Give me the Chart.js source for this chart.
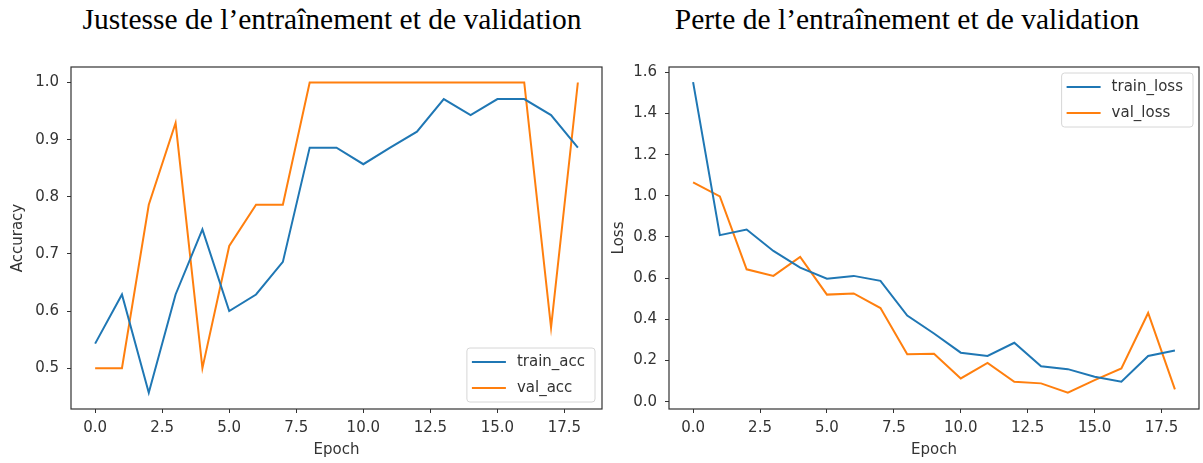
<!DOCTYPE html>
<html>
<head>
<meta charset="utf-8">
<script src="https://cdn.jsdelivr.net/npm/chart.js@4/dist/chart.umd.min.js"></script>
<style>
  body { margin: 0; background: #fff; width: 1203px; height: 463px; position: relative; overflow: hidden; }
  .title { position: absolute; top: 5px; font-family: "Liberation Serif", "Times New Roman", serif; font-size: 29.5px; line-height: 1; color: #000; white-space: nowrap; transform: translateX(-50%); }
  .panel { position: absolute; top: 50px; }
</style>
</head>
<body>
<div class="title" style="left:332px">Justesse de l’entraînement et de validation</div>
<div class="title" style="left:907px">Perte de l’entraînement et de validation</div>
<div class="panel" style="left:0"><canvas id="acc" width="610" height="413"></canvas></div>
<div class="panel" style="left:610px"><canvas id="loss" width="593" height="413"></canvas></div>
<script>
const epochs = [0, 1, 2, 3, 4, 5, 6, 7, 8, 9, 10, 11, 12, 13, 14, 15, 16, 17, 18]
const trainAcc = [0.543, 0.629, 0.457, 0.629, 0.743, 0.600, 0.629, 0.686, 0.886, 0.886, 0.857, 0.886, 0.914, 0.971, 0.943, 0.971, 0.971, 0.943, 0.886]
const valAcc = [0.500, 0.500, 0.786, 0.929, 0.500, 0.714, 0.786, 0.786, 1.0, 1.0, 1.0, 1.0, 1.0, 1.0, 1.0, 1.0, 1.0, 0.571, 1.0]
const trainLoss = [1.552, 0.809, 0.836, 0.732, 0.651, 0.597, 0.611, 0.587, 0.418, 0.331, 0.238, 0.222, 0.286, 0.172, 0.158, 0.121, 0.097, 0.222, 0.249]
const valLoss = [1.065, 0.997, 0.643, 0.611, 0.703, 0.520, 0.526, 0.455, 0.230, 0.233, 0.113, 0.188, 0.097, 0.089, 0.044, 0.105, 0.161, 0.431, 0.060]

const BLUE = '#1f77b4'
const ORANGE = '#ff7f0e'
const INK = '#333'
const tickFont = { family: 'DejaVu Sans', size: 15 }

const points = vals => vals.map((v, i) => ({ x: epochs[i], y: v }))

// box around the plot area, like matplotlib spines
const frame = {
  id: 'frame',
  afterDraw (chart) {
    const { ctx, chartArea: a } = chart
    ctx.save()
    ctx.strokeStyle = INK
    ctx.lineWidth = 1.2
    ctx.strokeRect(a.left, a.top, a.right - a.left, a.bottom - a.top)
    ctx.restore()
  }
}

// legend box drawn inside the plot area
const boxLegend = {
  id: 'boxLegend',
  afterDatasetsDraw (chart, args, opts) {
    const { ctx, chartArea: a } = chart
    const sets = chart.data.datasets
    ctx.save()
    ctx.font = '15px "DejaVu Sans"'
    const textW = Math.max(...sets.map(d => ctx.measureText(d.label).width))
    const w = 50 + textW + 10
    const h = 54
    const x = a.right - w - opts.inset
    const y = opts.corner === 'bottom' ? a.bottom - h - opts.inset : a.top + opts.inset
    ctx.beginPath()
    ctx.roundRect(x, y, w, h, 3)
    ctx.fillStyle = 'rgba(255,255,255,0.85)'
    ctx.fill()
    ctx.strokeStyle = '#d6d6d6'
    ctx.lineWidth = 1
    ctx.stroke()
    sets.forEach((d, i) => {
      const cy = y + 14 + i * 26
      ctx.strokeStyle = d.borderColor
      ctx.lineWidth = 2
      ctx.beginPath()
      ctx.moveTo(x + 5, cy)
      ctx.lineTo(x + 39, cy)
      ctx.stroke()
      ctx.fillStyle = INK
      ctx.textBaseline = 'middle'
      ctx.fillText(d.label, x + 50, cy)
    })
    ctx.restore()
  }
}

function makeChart (id, cfg) {
  return new Chart(document.getElementById(id), {
    type: 'line',
    data: {
      datasets: [
        { label: cfg.names[0], data: points(cfg.series[0]), borderColor: BLUE, backgroundColor: BLUE },
        { label: cfg.names[1], data: points(cfg.series[1]), borderColor: ORANGE, backgroundColor: ORANGE }
      ]
    },
    options: {
      responsive: false,
      animation: false,
      layout: { padding: { left: 0, top: cfg.top, right: cfg.right, bottom: 0 } },
      elements: {
        line: { borderWidth: 2, tension: 0 },
        point: { radius: 0 }
      },
      scales: {
        x: {
          type: 'linear',
          min: -0.9,
          max: 18.9,
          border: { display: false },
          grid: { drawOnChartArea: false, tickLength: 4, color: INK },
          ticks: { stepSize: 2.5, includeBounds: false, padding: 6, color: INK, font: tickFont, maxRotation: 0, callback: v => v.toFixed(1) },
          title: { display: true, text: 'Epoch', color: INK, font: tickFont, padding: { top: 0, bottom: 4 } },
          afterFit (scale) { scale.height = 54 }
        },
        y: {
          min: cfg.yMin,
          max: cfg.yMax,
          border: { display: false },
          grid: { drawOnChartArea: false, tickLength: 4, color: INK },
          ticks: { stepSize: cfg.yStep, includeBounds: false, padding: 8, color: INK, font: tickFont, callback: v => v.toFixed(1) },
          title: { display: true, text: cfg.yTitle, color: INK, font: tickFont, padding: { top: cfg.yTitlePad, bottom: 0 } },
          afterFit (scale) { scale.width = cfg.left }
        }
      },
      plugins: {
        legend: { display: false },
        tooltip: { enabled: false },
        boxLegend: { corner: cfg.legendCorner, inset: cfg.legendInset }
      }
    },
    plugins: [frame, boxLegend]
  })
}

makeChart('acc', {
  names: ['train_acc', 'val_acc'],
  series: [trainAcc, valAcc],
  yMin: 0.4286, yMax: 1.0271, yStep: 0.1,
  yTitle: 'Accuracy', yTitlePad: 9,
  left: 71, top: 15, right: 8,
  legendCorner: 'bottom', legendInset: 7
})

makeChart('loss', {
  names: ['train_loss', 'val_loss'],
  series: [trainLoss, valLoss],
  yMin: -0.0355, yMax: 1.6255, yStep: 0.2,
  yTitle: 'Loss', yTitlePad: 0,
  left: 59, top: 16, right: 4,
  legendCorner: 'top', legendInset: 6
})
</script>
</body>
</html>
